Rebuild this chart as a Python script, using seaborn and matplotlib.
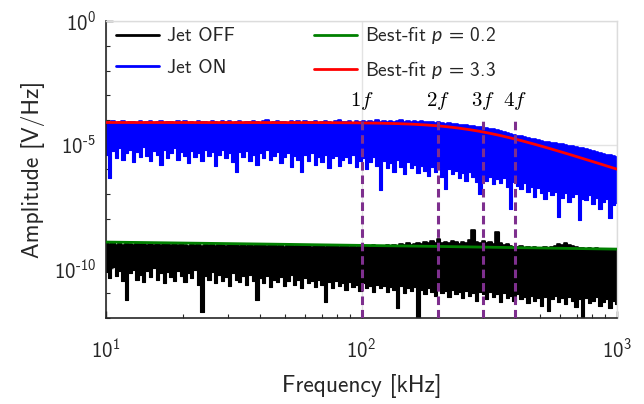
import numpy as np
import matplotlib
matplotlib.use("Agg")
import matplotlib.pyplot as plt
from matplotlib.ticker import FixedLocator, NullFormatter, FuncFormatter
import seaborn as sns

# Spectra: log10 amplitude per log-spaced frequency bin (10 kHz .. 1 MHz),
# stored as the bin's peak (hi) and trough (lo) values.
jet_on_hi = [
    -4.08, -4.11, -4.06, -4.12, -4.09, -4.05, -4.13, -4.10, -4.07, -4.11,
    -4.04, -4.12, -4.09, -4.06, -4.13, -4.08, -4.05, -4.11, -4.10, -4.07,
    -4.12, -4.06, -4.09, -4.03, -4.11, -4.08, -4.13, -4.05, -4.10, -4.07,
    -4.11, -4.04, -4.09, -4.12, -4.06, -4.10, -4.03, -4.11, -4.08, -4.05,
    -4.12, -4.07, -4.10, -4.04, -4.09, -4.13, -4.06, -4.02, -4.11, -4.08,
    -4.05, -4.10, -4.07, -4.12, -4.03, -4.09, -4.06, -4.11, -4.04, -4.08,
    -4.10, -4.05, -4.12, -4.07, -4.03, -4.09, -4.11, -4.06, -4.02, -4.10,
    -4.07, -4.04, -4.11, -4.06, -4.09, -4.03, -4.08, -4.05, -4.10, -4.02,
    -4.07, -4.04, -4.09, -4.03, -4.08, -4.06, -4.02, -4.09, -4.05, -4.07,
    -4.04, -4.08, -4.06, -4.10, -4.07, -4.09, -4.12, -4.10, -4.13, -4.15,
    -4.14, -4.17, -4.16, -4.20, -4.19, -4.22, -4.24, -4.23, -4.27, -4.29,
    -4.31, -4.33, -4.37, -4.38, -4.42, -4.45, -4.48, -4.52, -4.55, -4.60,
    -4.63, -4.66, -4.69, -4.72, -4.75, -4.78, -4.81, -4.84, -4.87, -4.89,
    -4.91, -4.93, -4.96, -4.98, -5.00, -5.04, -5.06, -5.09, -5.12, -5.15,
    -5.18, -5.22, -5.25, -5.29, -5.32, -5.36, -5.40, -5.43, -5.47, -5.51,
]
jet_on_lo = [
    -5.40, -6.35, -5.25, -5.55, -5.15, -5.60, -5.35, -5.20, -5.70, -5.30,
    -5.50, -5.10, -5.45, -5.65, -5.25, -5.40, -5.80, -5.20, -5.55, -5.35,
    -5.15, -5.60, -5.30, -5.45, -5.75, -5.25, -5.50, -5.35, -5.65, -5.20,
    -5.45, -5.30, -5.85, -5.40, -5.20, -5.55, -5.35, -5.70, -6.10, -5.30,
    -5.50, -5.25, -5.65, -5.40, -5.80, -5.35, -5.55, -5.20, -5.60, -5.45,
    -5.30, -5.75, -5.50, -5.35, -5.90, -5.45, -5.60, -6.10, -5.40, -5.65,
    -5.35, -5.80, -5.50, -5.70, -5.40, -5.95, -5.55, -5.45, -5.85, -5.60,
    -5.50, -5.75, -5.40, -5.90, -5.65, -5.55, -6.00, -5.70, -5.50, -5.85,
    -6.83, -5.65, -5.95, -5.75, -6.10, -5.60, -5.90, -6.20, -5.70, -5.95,
    -5.80, -6.15, -5.85, -6.05, -6.25, -5.90, -6.10, -5.95, -6.30, -6.80,
    -6.00, -6.20, -6.05, -6.35, -6.15, -6.45, -6.10, -6.30, -6.50, -7.00,
    -6.25, -6.45, -6.30, -6.60, -6.40, -6.55, -6.35, -6.70, -7.60, -6.50,
    -6.65, -6.80, -6.55, -6.90, -6.70, -7.10, -6.75, -6.95, -7.20, -6.85,
    -7.05, -6.90, -7.92, -7.15, -6.95, -7.30, -7.10, -7.00, -8.04, -7.20,
    -7.25, -7.05, -7.40, -7.15, -7.60, -7.30, -7.20, -7.96, -7.45, -7.35,
]
jet_off_hi = [
    -8.97, -9.02, -8.95, -9.04, -8.99, -9.06, -8.96, -9.01, -9.05, -8.98,
    -9.03, -8.97, -9.07, -9.00, -9.04, -8.98, -9.06, -9.02, -8.99, -9.05,
    -9.01, -9.07, -8.99, -9.04, -9.08, -9.00, -9.05, -9.02, -9.09, -9.01,
    -9.06, -9.03, -9.08, -9.01, -9.05, -9.10, -9.02, -9.07, -9.04, -9.09,
    -9.03, -9.08, -9.05, -9.11, -9.02, -9.07, -9.04, -9.10, -9.06, -9.03,
    -9.09, -9.05, -9.12, -9.07, -9.04, -9.10, -9.06, -9.11, -9.08, -9.05,
    -9.12, -9.07, -9.10, -9.06, -9.13, -9.08, -9.11, -9.07, -9.14, -9.09,
    -9.10, -9.13, -9.08, -9.12, -9.09, -9.14, -9.10, -9.13, -9.07, -9.11,
    -9.09, -9.12, -9.06, -9.10, -9.04, -9.08, -9.02, -9.07, -8.98, -9.05,
    -9.00, -8.96, -9.03, -8.93, -8.99, -8.90, -8.97, -8.80, -8.95, -8.92,
    -8.98, -8.88, -8.94, -9.00, -8.91, -8.96, -8.86, -8.44, -8.93, -8.99,
    -8.90, -8.97, -8.92, -9.02, -8.53, -8.95, -9.04, -9.00, -9.08, -9.12,
    -9.15, -9.11, -9.17, -9.13, -9.18, -9.14, -9.19, -9.16, -9.12, -9.18,
    -9.14, -9.08, -9.02, -9.06, -8.97, -9.04, -9.10, -9.15, -9.19, -9.16,
    -9.21, -9.18, -9.22, -9.19, -9.24, -9.20, -9.23, -9.21, -9.25, -9.22,
]
jet_off_lo = [
    -10.15, -10.40, -9.95, -10.30, -10.10, -10.50, -11.27, -10.20, -10.05, -10.45,
    -10.25, -10.55, -10.10, -10.35, -10.00, -10.45, -10.20, -10.60, -10.15, -10.35,
    -10.50, -10.10, -10.30, -10.55, -10.20, -10.40, -10.05, -10.65, -11.76, -10.30,
    -10.45, -10.15, -10.60, -10.25, -10.50, -10.35, -10.70, -10.20, -10.45, -10.55,
    -10.30, -10.65, -10.25, -10.50, -11.27, -10.40, -10.60, -10.30, -10.75, -10.45,
    -10.55, -10.35, -10.70, -10.50, -10.25, -10.65, -10.45, -10.80, -10.40, -10.60,
    -10.50, -10.75, -10.45, -10.65, -11.35, -10.55, -10.80, -10.50, -10.70, -10.60,
    -10.85, -10.55, -10.75, -10.65, -10.90, -10.60, -10.80, -10.70, -10.95, -10.65,
    -10.80, -10.70, -10.95, -10.75, -10.85, -11.60, -10.70, -11.00, -10.80, -10.90,
    -10.75, -11.95, -10.85, -11.05, -10.80, -10.95, -11.10, -10.85, -11.00, -10.90,
    -11.15, -10.85, -11.05, -10.95, -11.20, -10.90, -11.10, -11.00, -11.30, -10.95,
    -11.05, -11.25, -10.95, -11.15, -11.05, -11.35, -11.00, -11.20, -11.10, -11.30,
    -11.05, -11.25, -11.15, -11.40, -11.10, -11.30, -11.20, -11.50, -11.15, -11.70,
    -11.25, -11.10, -11.35, -11.20, -11.45, -11.15, -11.30, -11.55, -11.25, -11.95,
    -11.20, -11.40, -11.30, -11.15, -11.50, -11.35, -11.25, -11.60, -11.30, -11.45,
]

# Best-fit model A / (1 + (f/fc)^p)
fit_on = dict(amp=10**-4.10, fc=269.0, p=3.3)
fit_off = dict(amp=10**-8.52, fc=1.0, p=0.2)

fundamental_khz = 100.0
harmonics = [1, 2, 3, 4]

f_min, f_max = 10.0, 1000.0
text_color = "#262626"

sns.set_theme(style="white")
plt.rcParams.update({
    "font.family": ["cmss10", "DejaVu Sans"],
    "mathtext.fontset": "custom",
    "mathtext.rm": "cmss10",
    "mathtext.sf": "cmss10",
    "mathtext.it": "Lato:italic",
    "axes.unicode_minus": False,
    "text.color": text_color,
    "axes.labelcolor": text_color,
    "xtick.color": text_color,
    "ytick.color": text_color,
})


def model(freq, amp, fc, p):
    return amp / (1.0 + (freq / fc) ** p)


def decade_label(value, _pos):
    e = int(round(np.log10(value)))
    sign = r"\text{-}" if e < 0 else ""
    return rf"$\mathdefault{{10^{{{sign}{abs(e)}}}}}$"


fig = plt.figure(figsize=(6.44, 4.04), dpi=100)
ax = fig.add_axes([0.1646, 0.2129, 0.7935, 0.7351])
ax.set_xscale("log")
ax.set_yscale("log")

f_bins = np.geomspace(f_min, f_max, len(jet_on_hi))
f_fit = np.geomspace(f_min, f_max, 400)

# spectra: filled min/max envelope per bin, with the peak trace on top
for hi, lo, color, label in [
    (jet_off_hi, jet_off_lo, "black", "Jet OFF"),
    (jet_on_hi, jet_on_lo, "#0000ff", "Jet ON"),
]:
    hi_amp = 10.0 ** np.asarray(hi)
    lo_amp = 10.0 ** np.asarray(lo)
    ax.fill_between(f_bins, lo_amp, hi_amp, step="mid", color=color,
                    lw=0.8, edgecolor=color, zorder=2)
    sns.lineplot(x=f_bins, y=hi_amp, color=color, lw=1.2,
                 drawstyle="steps-mid", estimator=None, sort=False,
                 ax=ax, label=label, zorder=2)

sns.lineplot(x=f_fit, y=model(f_fit, **fit_off), color="#008000", lw=2.0,
             estimator=None, sort=False, ax=ax,
             label=r"Best-fit $p$ = 0.2", zorder=3)
sns.lineplot(x=f_fit, y=model(f_fit, **fit_on), color="#ff0000", lw=2.0,
             estimator=None, sort=False, ax=ax,
             label=r"Best-fit $p$ = 3.3", zorder=3)

ax.set_xlim(f_min, f_max)
ax.set_ylim(1e-12, 1e0)

# harmonic markers
for n in harmonics:
    fx = n * fundamental_khz
    ax.vlines(fx, 1e-12, 10**-4.0, colors="#7e2f8e", lw=2.2,
              linestyles=(0, (2.8, 1.6)), zorder=4)
    ax.text(fx, 10**-3.22, rf"${n}f$", ha="center", va="center",
            fontsize=15, math_fontfamily="cm", color="black", zorder=5)

ax.xaxis.set_major_locator(FixedLocator([1e1, 1e2, 1e3]))
ax.xaxis.set_minor_locator(FixedLocator(
    [m * 10**e for e in (1, 2) for m in range(2, 10)]))
ax.yaxis.set_major_locator(FixedLocator([1e-10, 1e-5, 1e0]))
ax.yaxis.set_minor_locator(FixedLocator([10.0**e for e in range(-12, 1)]))
ax.xaxis.set_major_formatter(FuncFormatter(decade_label))
ax.yaxis.set_major_formatter(FuncFormatter(decade_label))
ax.xaxis.set_minor_formatter(NullFormatter())
ax.yaxis.set_minor_formatter(NullFormatter())

ax.tick_params(which="both", direction="in", bottom=True, left=True,
               top=False, right=False, labelsize=15, colors=text_color)
ax.tick_params(axis="x", which="major", length=5, width=1, pad=14)
ax.tick_params(axis="y", which="major", length=5, width=1, pad=7)
ax.tick_params(which="minor", length=3, width=0.8)

ax.grid(True, which="major", color="#e3e3e3", lw=1.0)
ax.set_axisbelow(True)
for side in ("left", "bottom"):
    ax.spines[side].set_color("#262626")
    ax.spines[side].set_linewidth(1.2)
for side in ("top", "right"):
    ax.spines[side].set_color("#dcdcdc")
    ax.spines[side].set_linewidth(1.0)

ax.set_xlabel("Frequency [kHz]", fontsize=17, labelpad=9)
ax.set_ylabel("Amplitude [V/Hz]", fontsize=17, labelpad=6)

handles, labels = ax.get_legend_handles_labels()
order = ["Jet OFF", "Jet ON", r"Best-fit $p$ = 0.2", r"Best-fit $p$ = 3.3"]
hmap = dict(zip(labels, handles))
leg = ax.legend([hmap[k] for k in order], order, ncol=2, loc="upper left",
                bbox_to_anchor=(0.02, 0.985), frameon=False, fontsize=14,
                handlelength=2.2, handletextpad=0.4, labelspacing=0.68,
                columnspacing=4.1, borderaxespad=0, borderpad=0)
for line in leg.get_lines():
    line.set_linewidth(2.0)

fig.savefig("out.png", dpi=100)
